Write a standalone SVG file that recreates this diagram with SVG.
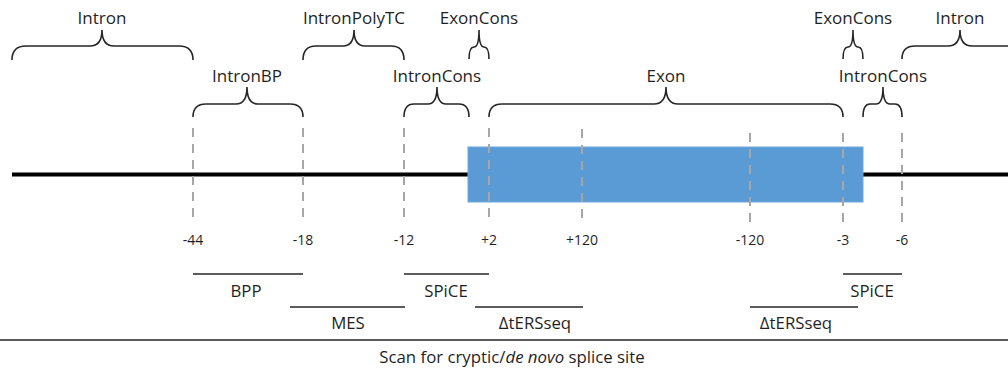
<svg xmlns="http://www.w3.org/2000/svg" width="1008" height="369" viewBox="0 0 1008 369">
<style>
text{font-family:"Open Sans","Liberation Sans",sans-serif;fill:#1f1f1f;text-anchor:middle}
.lbl{font-size:17px}
.tick{font-size:14px}
.bl{font-size:16.8px}
.brace{fill:none;stroke:#262626;stroke-width:1.6}
.dash{stroke:#A6A6A6;stroke-width:2;stroke-dasharray:9 7}
.seg{stroke:#262626;stroke-width:1.5}
</style>
<rect width="1008" height="369" fill="#ffffff"/>
<g id="backbone">
<line x1="12" y1="174.5" x2="1008" y2="174.5" stroke="#000" stroke-width="4"/>
</g>
<g id="exon-box">
<rect x="468" y="147" width="395" height="55" fill="#5B9BD5" stroke="#6FA8DC" stroke-width="1"/>
</g>
<g id="connectors">
<line class="dash" x1="193" y1="128" x2="193" y2="222"/>
<line class="dash" x1="303" y1="128" x2="303" y2="222"/>
<line class="dash" x1="404" y1="128" x2="404" y2="222"/>
<line class="dash" x1="489" y1="128" x2="489" y2="222"/>
<line class="dash" x1="582" y1="129" x2="582" y2="222"/>
<line class="dash" x1="750" y1="133" x2="750" y2="225"/>
<line class="dash" x1="843" y1="133" x2="843" y2="225"/>
<line class="dash" x1="902" y1="133" x2="902" y2="225"/>
</g>
<g id="ticks">
<text class="tick" x="193" y="245">-44</text>
<text class="tick" x="303" y="245">-18</text>
<text class="tick" x="404" y="245">-12</text>
<text class="tick" x="489" y="245">+2</text>
<text class="tick" x="582" y="245">+120</text>
<text class="tick" x="750" y="245">-120</text>
<text class="tick" x="843" y="245">-3</text>
<text class="tick" x="902" y="245">-6</text>
</g>
<g id="intron-left">
<path class="brace" d="M12,60 Q12,46 26,46 L90,46 Q102,46 102,30 Q102,46 114,46 L179,46 Q193,46 193,60"/>
<text class="lbl" x="102" y="24">Intron</text>
</g>
<g id="intronbp">
<path class="brace" d="M193,117 Q193,104 206,104 L236,104 Q247,104 247,87 Q247,104 258,104 L290,104 Q303,104 303,117"/>
<text class="lbl" x="247" y="82">IntronBP</text>
</g>
<g id="intronpolytc">
<path class="brace" d="M303,60 Q303,46 316,46 L343,46 Q354,46 354,30 Q354,46 365,46 L391,46 Q404,46 404,60"/>
<text class="lbl" x="354" y="24">IntronPolyTC</text>
</g>
<g id="exoncons-left">
<path class="brace" d="M469,59 Q469,47 474,47 Q479,47 479,30 Q479,47 484,47 Q489,47 489,59"/>
<text class="lbl" x="479" y="24">ExonCons</text>
</g>
<g id="introncons-left">
<path class="brace" d="M404,117 Q404,104 414,104 L428,104 Q437,104 437,87 Q437,104 446,104 L459,104 Q469,104 469,117"/>
<text class="lbl" x="437" y="82">IntronCons</text>
</g>
<g id="exon">
<path class="brace" d="M489,117 Q489,104 502,104 L654,104 Q666,104 666,87 Q666,104 678,104 L830,104 Q843,104 843,117"/>
<text class="lbl" x="666" y="82">Exon</text>
</g>
<g id="exoncons-right">
<path class="brace" d="M843,59 Q843,47 848,47 Q853,47 853,30 Q853,47 858,47 Q863,47 863,59"/>
<text class="lbl" x="853" y="24">ExonCons</text>
</g>
<g id="introncons-right">
<path class="brace" d="M863,117 Q863,104 870,104 L876,104 Q883,104 883,87 Q883,104 890,104 L895,104 Q902,104 902,117"/>
<text class="lbl" x="883" y="82">IntronCons</text>
</g>
<g id="intron-right">
<path class="brace" d="M902,59 Q902,46 915,46 L948,46 Q960,46 960,30 Q960,46 972,46 L1020,46"/>
<text class="lbl" x="960" y="24">Intron</text>
</g>
<g id="tools">
<g id="bpp"><line class="seg" x1="193" y1="274" x2="303" y2="274"/><text class="bl" x="246" y="297">BPP</text></g>
<g id="mes"><line class="seg" x1="290" y1="307" x2="405" y2="307"/><text class="bl" x="348" y="329">MES</text></g>
<g id="spice-left"><line class="seg" x1="404" y1="274" x2="489" y2="274"/><text class="bl" x="446" y="297">SPiCE</text></g>
<g id="tersseq-left"><line class="seg" x1="475" y1="307" x2="583" y2="307"/><text class="bl" x="535" y="329">ΔtERSseq</text></g>
<g id="tersseq-right"><line class="seg" x1="750" y1="307" x2="858" y2="307"/><text class="bl" x="796" y="329">ΔtERSseq</text></g>
<g id="spice-right"><line class="seg" x1="843" y1="274" x2="902" y2="274"/><text class="bl" x="872" y="297">SPiCE</text></g>
</g>
<g id="scan">
<line x1="0" y1="340" x2="1008" y2="340" stroke="#595959" stroke-width="2"/>
<text class="bl" x="512" y="363">Scan for cryptic/<tspan font-style="italic">de novo</tspan> splice site</text>
</g>
</svg>
